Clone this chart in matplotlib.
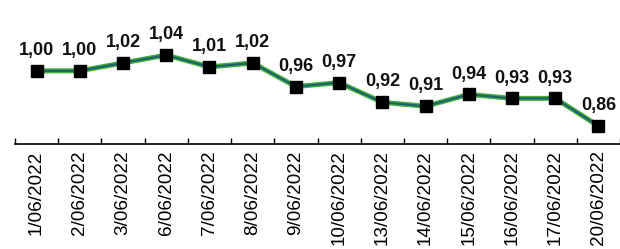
import numpy as np
import matplotlib
matplotlib.use("Agg")
import matplotlib.pyplot as plt

dates = ["1/06/2022", "2/06/2022", "3/06/2022", "6/06/2022", "7/06/2022",
         "8/06/2022", "9/06/2022", "10/06/2022", "13/06/2022", "14/06/2022",
         "15/06/2022", "16/06/2022", "17/06/2022", "20/06/2022"]
values = [1.00, 1.00, 1.02, 1.04, 1.01, 1.02, 0.96, 0.97, 0.92, 0.91,
          0.94, 0.93, 0.93, 0.86]

fig = plt.figure(figsize=(6.2, 2.49), dpi=100)
ax = fig.add_axes([15 / 620, 1 - 144 / 249, 1 - 15 / 620, 144 / 249])

x = np.arange(len(values))
ax.plot(x, values, color="#3fae3a", lw=3.6, solid_capstyle="round", zorder=2)
ax.plot(x, values, color="#1d5f6e", lw=1.5, zorder=3)
ax.plot(x, values, ls="none", marker="s", ms=8.5, color="black", zorder=4)

for xi, v in zip(x, values):
    ax.annotate(f"{v:.2f}".replace(".", ","), (xi, v), xytext=(0, 8.5),
                textcoords="offset points", ha="center", va="bottom",
                fontsize=13, fontweight="bold", color="#111111",
                family="Liberation Sans")

ax.set_xlim(-0.5, len(values) - 0.5)
ax.set_ylim(0.814, 1.18)

for s in ["left", "top", "right"]:
    ax.spines[s].set_visible(False)
ax.spines["bottom"].set_linewidth(1.2)
ax.set_yticks([])

ax.set_xticks(x)
ax.set_xticklabels(dates, rotation=90, fontsize=13.6, family="Liberation Sans")
ax.tick_params(axis="x", which="major", length=0, pad=4.5)
ax.set_xticks(np.arange(-0.5, len(values), 1), minor=True)
ax.tick_params(axis="x", which="minor", direction="in", length=4, width=1)

fig.savefig("out.png", dpi=100)
